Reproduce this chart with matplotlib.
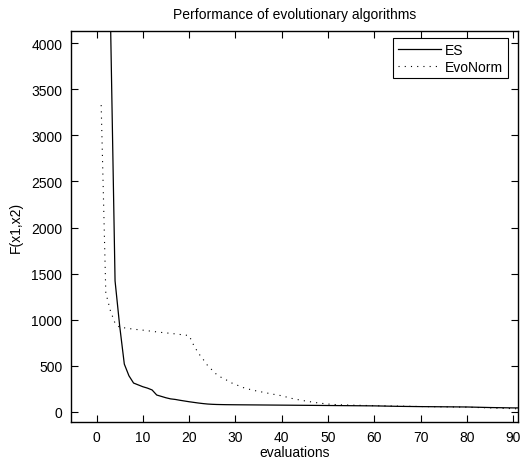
import matplotlib
matplotlib.use("Agg")
import matplotlib.pyplot as plt

plt.rcParams['font.family'] = ['Liberation Sans', 'DejaVu Sans']

# ES run
es_x = [1, 2, 3, 4, 5, 6, 7, 8, 9, 10, 11, 12, 13, 14, 15, 16, 17, 18, 19, 20,
        21, 22, 23, 24, 25, 26, 27, 28, 30, 35, 40, 45, 50, 55, 60, 65, 70, 75,
        80, 85, 90, 91]
es_y = [11000, 7500, 4300, 1420, 930, 516, 389, 310, 290, 270, 255, 235, 180,
        165, 150, 138, 132, 123, 115, 107, 100, 93, 87, 82, 79, 77, 76, 75, 74,
        72, 70, 68, 66, 64, 62, 57, 54, 52, 50, 44, 40, 40]

# EvoNorm run
evo_x = [1, 2, 3, 4, 5, 6, 8, 10, 12, 14, 16, 18, 20, 21, 22, 23, 24, 25, 26,
         27, 28, 29, 30, 32, 34, 36, 38, 40, 42, 44, 46, 48, 50, 52, 55, 60, 70,
         80, 90, 91]
evo_y = [3330, 1290, 1095, 960, 915, 910, 895, 885, 872, 860, 850, 838, 826,
         720, 635, 570, 500, 450, 400, 370, 345, 315, 295, 255, 230, 210, 190,
         172, 145, 125, 108, 93, 82, 75, 70, 64, 55, 48, 32, 30]

fig = plt.figure(figsize=(5.31, 4.64), dpi=100)
ax = fig.add_axes([0.133, 0.089, 0.842, 0.843])

ax.plot(es_x, es_y, color='black', lw=0.9, label='ES')
ax.plot(evo_x, evo_y, color='black', lw=0.8, linestyle=(0, (1, 4.6)),
        label='EvoNorm')

ax.set_xlim(-5.6, 91)
ax.set_ylim(-110, 4140)
ax.set_xticks(range(0, 91, 10))
ax.set_yticks(range(0, 4001, 500))
ax.tick_params(direction='in', top=True, right=True, length=5, width=0.8,
               labelsize=10, pad=6)
for s in ax.spines.values():
    s.set_linewidth(1.0)

ax.set_title('Performance of evolutionary algorithms', fontsize=10, pad=9)
ax.set_xlabel('evaluations', fontsize=10, labelpad=1)
ax.set_ylabel('F(x1,x2)', fontsize=10, labelpad=6)

leg = ax.legend(loc='upper right', bbox_to_anchor=(0.978, 0.981),
                borderaxespad=0, fancybox=False, edgecolor='black',
                framealpha=1, fontsize=10, handlelength=3.1,
                labelspacing=0.2, borderpad=0.35, handletextpad=0.3)
leg.get_frame().set_linewidth(0.8)

fig.savefig('out.png', dpi=100)
